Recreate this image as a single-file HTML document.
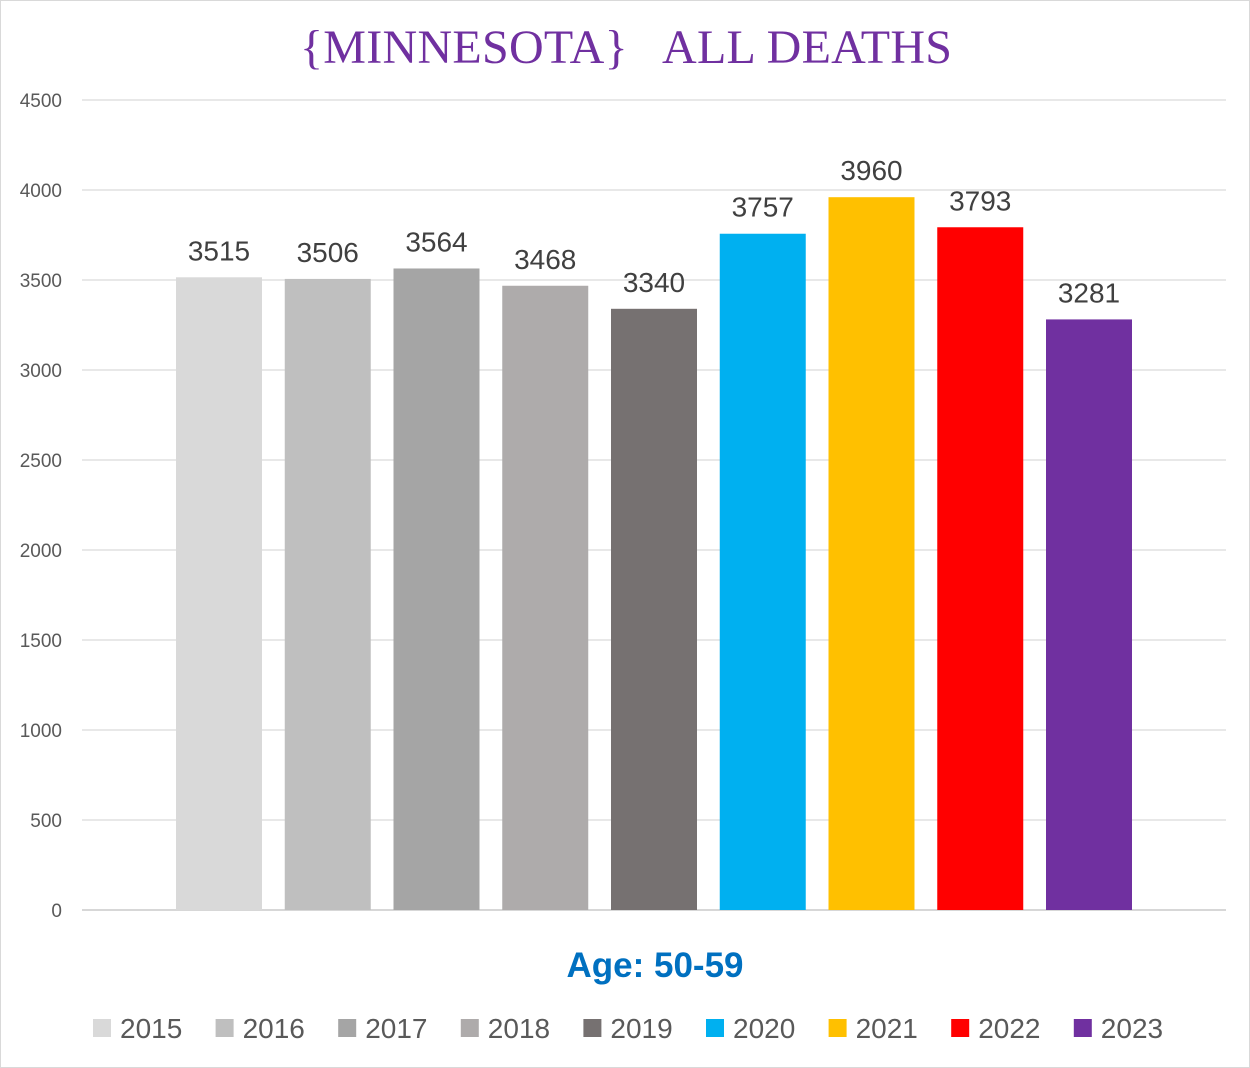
<!DOCTYPE html>
<html><head><meta charset="utf-8"><style>
body{margin:0;background:#fff;}
svg{display:block;font-family:"Liberation Sans",sans-serif;}
</style></head><body>
<svg width="1250" height="1068">
<rect x="0.5" y="0.5" width="1249" height="1067" fill="#fff" stroke="#d9d9d9"/>
<text x="300" y="63" xml:space="preserve" style="white-space:pre" textLength="652" lengthAdjust="spacing" font-family="Liberation Serif, serif" font-size="48" fill="#7030a0">{MINNESOTA}   ALL DEATHS</text>
<g id="grid"></g><g id="bars"></g><g id="legend"></g>
<text x="655" y="977" text-anchor="middle" font-size="35" font-weight="bold" fill="#0070c0">Age: 50-59</text>
</svg>
<script>
const categories=["2015","2016","2017","2018","2019","2020","2021","2022","2023"];
const values=[3515,3506,3564,3468,3340,3757,3960,3793,3281];
const colors=["#d9d9d9","#bfbfbf","#a5a5a5","#aeabab","#767171","#00b0f0","#ffc000","#ff0000","#7030a0"];
const ticks=[0,500,1000,1500,2000,2500,3000,3500,4000,4500];
const NS="http://www.w3.org/2000/svg";
const y=v=>910-v*810/4500;
const xc=i=>219+i*108.75;
function mk(t,a,p){const e=document.createElementNS(NS,t);for(const k in a)e.setAttribute(k,a[k]);p.appendChild(e);return e;}
const g=document.getElementById('grid');
ticks.forEach(t=>{
 const l=mk('line',{x1:82,x2:1226,y1:y(t),y2:y(t),stroke:t===0?'#bfbfbf':'#d9d9d9','stroke-width':1.3},g);
 
 
 const tx=mk('text',{x:62,y:y(t)+7,'text-anchor':'end','font-size':19,fill:'#595959'},g);
 tx.textContent=t;
 
 
});
const b=document.getElementById('bars');
values.forEach((v,i)=>{
 const r=mk('rect',{x:xc(i)-43,y:y(v),width:86,height:910-y(v),fill:colors[i]},b);
 
 
 const t=mk('text',{x:xc(i),y:y(v)-17,'text-anchor':'middle','font-size':28,fill:'#404040'},b);
 t.textContent=v;
 
 
});
const lg=document.getElementById('legend');
categories.forEach((c,i)=>{
 const x0=93+i*122.6;
 const s=mk('rect',{x:x0,y:1019,width:18,height:18,fill:colors[i]},lg);
 
 
 const t=mk('text',{x:x0+27,y:1038,'font-size':28,fill:'#595959'},lg);
 t.textContent=c;
 
 
});
</script>
</body></html>
